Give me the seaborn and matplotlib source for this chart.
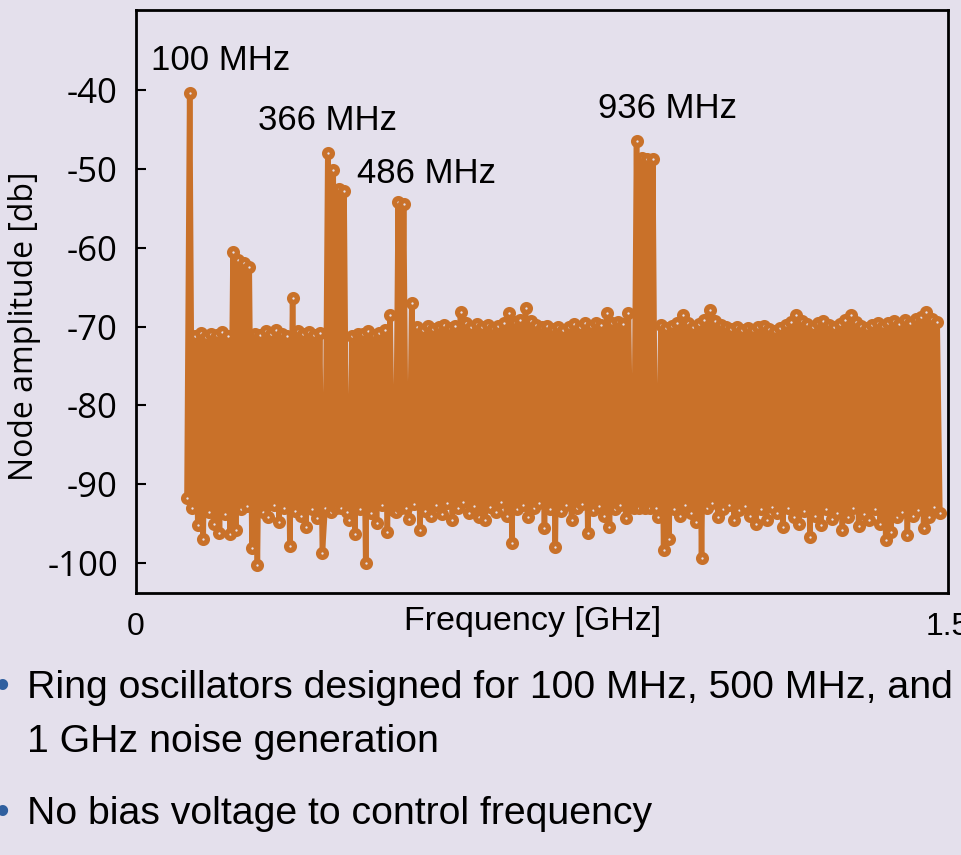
import numpy as np
import matplotlib
matplotlib.use("Agg")
import matplotlib.pyplot as plt
import seaborn as sns
from matplotlib import font_manager as fm

# ------------------------------------------------------------------ data
# Spectrum sampled on a uniform bin grid (GHz)
bin_start_ghz = 0.095
bin_step_ghz = 0.005

# even bins: local minima of the noise floor (dB)
floor_low_db = [
    -91.8, -93.0, -95.2, -96.9, -93.5, -95.0, -96.2, -93.8, -96.3, -95.8,
    -93.2, -92.8, -98.1, -100.2, -93.5, -94.2, -92.6, -94.8, -93.0, -97.9,
    -93.4, -94.0, -95.4, -93.1, -94.3, -98.7, -92.8, -93.5, -93.0, -93.5,
    -94.6, -96.3, -93.2, -100.0, -93.6, -94.9, -92.7, -96.1, -93.3, -92.9,
    -93.0, -94.4, -92.5, -95.8, -93.4, -94.0, -92.6, -93.8, -92.4, -94.5,
    -93.0, -92.2, -93.6, -92.8, -94.1, -94.5, -92.9, -93.5, -92.3, -94.0,
    -97.5, -93.1, -92.6, -94.2, -93.0, -92.4, -95.5, -93.2, -98.0, -93.4,
    -92.7, -94.6, -93.0, -92.5, -96.2, -93.3, -92.8, -94.0, -95.4, -93.1,
    -92.6, -94.3, -92.9, -93.5, -93.0, -92.6, -93.4, -94.1, -98.4, -96.9,
    -93.2, -94.0, -92.7, -93.6, -94.8, -99.3, -93.0, -92.4, -94.2, -93.1,
    -92.6, -94.5, -93.3, -92.8, -94.0, -95.0, -93.2, -94.6, -92.9, -93.7,
    -95.4, -93.0, -94.2, -95.1, -93.4, -96.7, -94.0, -95.2, -93.1, -94.4,
    -93.6, -95.8, -94.1, -93.0, -95.3, -93.8, -94.5, -93.2, -95.0, -97.1,
    -96.0, -94.2, -93.5, -96.5, -94.0, -93.3, -95.5, -94.1, -92.9, -93.6,
]

# odd bins: local maxima of the noise floor (dB)
floor_high_db = [
    -71.0, -71.2, -70.8, -71.3, -70.9, -71.1, -70.7, -71.2, -71.0, -70.8,
    -71.0, -71.3, -70.9, -71.1, -70.6, -71.0, -70.5, -70.9, -71.2, -70.8,
    -70.6, -71.0, -70.7, -71.1, -70.8, -71.0, -70.9, -70.7, -70.8, -70.8,
    -71.2, -70.9, -71.0, -70.6, -71.1, -70.8, -70.5, -68.5, -70.6, -70.4,
    -70.3, -70.2, -70.0, -70.4, -69.9, -70.3, -70.1, -69.8, -70.2, -69.9,
    -68.2, -69.6, -70.0, -69.7, -70.1, -69.8, -70.2, -69.9, -69.5, -68.3,
    -69.4, -69.2, -67.7, -69.3, -69.8, -70.1, -69.9, -70.3, -70.0, -70.4,
    -70.1, -69.7, -70.0, -69.6, -69.9, -69.5, -69.8, -68.3, -69.6, -69.4,
    -69.7, -68.3, -69.5, -69.7, -69.9, -69.8, -69.6, -69.8, -70.2, -69.9,
    -69.6, -68.6, -69.5, -70.0, -69.7, -69.2, -67.9, -69.3, -69.8, -70.1,
    -70.3, -70.0, -70.4, -70.2, -70.5, -70.1, -69.9, -70.3, -70.6, -70.2,
    -69.8, -69.4, -68.5, -69.3, -69.7, -70.0, -69.6, -69.3, -69.8, -70.1,
    -69.7, -69.2, -68.5, -69.4, -69.9, -70.2, -69.8, -69.5, -69.9, -69.6,
    -69.3, -69.7, -69.2, -69.5, -69.0, -68.8, -68.2, -69.0, -69.4,
]

# bins around the oscillator tones (index into the bin grid) and their level
tone_bins = [1, 17, 19, 21, 23, 39,
             51, 52, 53, 54, 55, 56, 57, 58, 59,
             77, 78, 79, 80, 81, 83,
             165, 166, 167, 168, 169, 170, 171, 172, 173]
tone_db = [-40.4, -60.5, -61.5, -62.0, -62.5, -66.4,
           -93.0, -48.0, -93.5, -50.2, -93.0, -52.6, -93.0, -52.8, -93.5,
           -93.5, -54.2, -93.0, -54.5, -93.0, -67.0,
           -93.0, -46.5, -93.0, -48.6, -93.0, -48.7, -93.0, -48.8, -93.0]

peak_labels = ["100 MHz", "366 MHz", "486 MHz", "936 MHz"]

y_ticks = [-100, -90, -80, -70, -60, -50, -40]
x_ticks = [0, 1.5]
x_tick_labels = ["0", "1.5"]

bullets = ["Ring oscillators designed for 100 MHz, 500 MHz, and",
           "1 GHz noise generation",
           "No bias voltage to control frequency"]

# ------------------------------------------------------------------ style
BG = "#E4E0EC"
ORANGE = "#C97129"
BLUE = "#2F5F9F"

names = {f.name for f in fm.fontManager.ttflist}


def pick(*cands):
    for c in cands:
        if c in names:
            return c
    return "DejaVu Sans"


SANS = pick("Liberation Sans", "Arial")
NARROW = pick("Liberation Sans Narrow", "Arial Narrow")
HUMAN = pick("Open Sans", "Noto Sans", "Liberation Sans")
narrow_ok = NARROW in ("Liberation Sans Narrow", "Arial Narrow")
if not narrow_ok:
    NARROW = SANS
ann_size = 30 if narrow_ok else 25

sns.set_theme(style="white", rc={"figure.facecolor": BG,
                                 "axes.facecolor": BG,
                                 "savefig.facecolor": BG})
plt.rcParams["font.family"] = [SANS, "DejaVu Sans"]
plt.rcParams["axes.unicode_minus"] = False

W, H = 961, 855
fig = plt.figure(figsize=(W / 100, H / 100), dpi=100)
ax = fig.add_axes([135.5 / W, 1 - 593 / H, 812.5 / W, 583 / H])

n = len(floor_low_db) + len(floor_high_db)
freq = bin_start_ghz + bin_step_ghz * np.arange(n)
amp = np.empty(n)
amp[0::2] = floor_low_db
amp[1::2] = floor_high_db
amp[tone_bins] = tone_db

sns.lineplot(x=freq, y=amp, ax=ax, sort=False, estimator=None,
             color=ORANGE, linewidth=4.0, marker="o", markersize=5.6,
             markeredgewidth=3.8, markeredgecolor=ORANGE,
             markerfacecolor=BG)

ax.set_xlim(0, 1.5)
ax.set_ylim(-103.8, -29.85)

ax.set_yticks(y_ticks, [str(v) for v in y_ticks], fontsize=25,
              fontfamily=HUMAN)
ax.set_xticks(x_ticks, x_tick_labels, fontsize=23, fontfamily=SANS)
ax.tick_params(axis="y", direction="in", length=7.5, width=1.5,
               pad=12.6, colors="black", left=True)
ax.tick_params(axis="x", length=0, pad=14, colors="black")

ax.set_xlabel("Frequency [GHz]", fontsize=24.5, fontfamily=SANS,
              color="black")
ax.xaxis.set_label_coords(0.489, -0.022)
ax.set_ylabel("Node amplitude [db]", fontsize=23, fontfamily=HUMAN,
              color="black")
ax.yaxis.set_label_coords(-0.137, 0.458)
ax.yaxis.label.set_verticalalignment("center")

for s in ax.spines.values():
    s.set_visible(True)
    s.set_color("black")
    s.set_linewidth(2.0)

# tone labels (placed above the corresponding peaks)
label_pos = [(0.158, -37.46), (0.3544, -45.07), (0.5381, -51.8),
             (0.982, -43.55)]
for txt, (lx, ly) in zip(peak_labels, label_pos):
    ax.text(lx, ly, txt, ha="center", va="baseline", fontsize=ann_size,
            fontfamily=NARROW, color="black")

# slide bullets below the chart
baselines = [698, 752, 824]
for txt, yb in zip(bullets, baselines):
    fig.text(27 / W, 1 - yb / H, txt, ha="left", va="baseline",
             fontsize=28.3, fontfamily=SANS, color="black")
for yb in (baselines[0], baselines[2]):
    fig.text(2 / W, 1 - yb / H, "\u2022", ha="center", va="baseline",
             fontsize=28.3, fontfamily=SANS, color=BLUE)

fig.savefig("out.png", dpi=100, facecolor=BG)
